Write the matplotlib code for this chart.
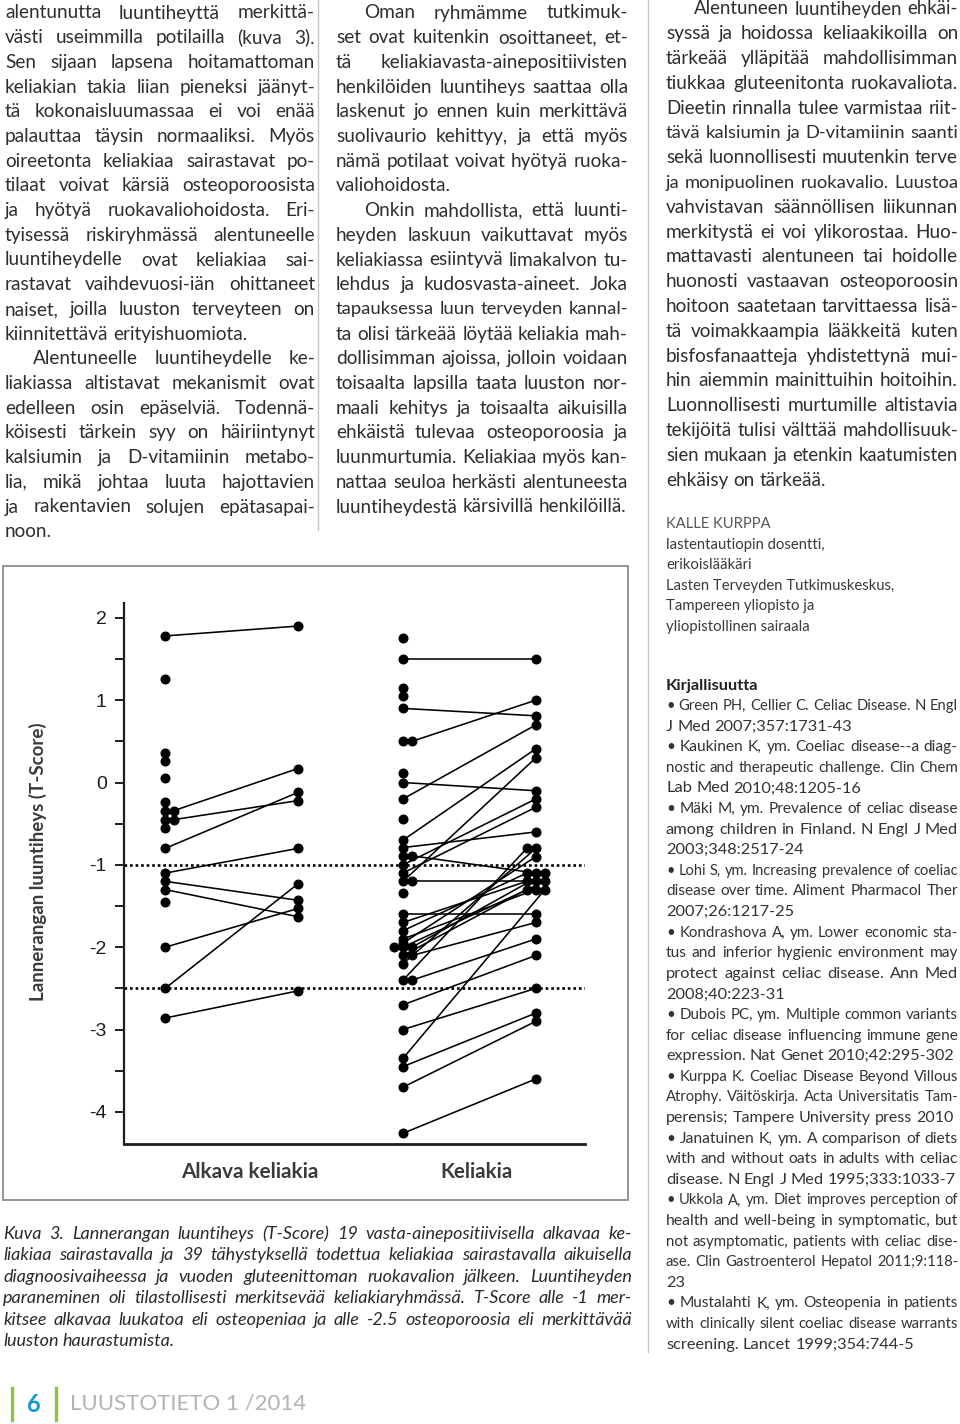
import matplotlib

matplotlib.use("Agg")

import matplotlib.pyplot as plt  # noqa: E402
from matplotlib.lines import Line2D  # noqa: E402
from matplotlib.patches import Rectangle  # noqa: E402
from matplotlib.ticker import MultipleLocator  # noqa: E402

plt.rcParams["axes.unicode_minus"] = False
plt.rcParams["font.family"] = ["Lato", "DejaVu Sans"]

W, H = 960, 1424

# --- Kuva 3: lumbar T-score at diagnosis and after one year of gluten-free diet ---
GROUP_LABELS = ["Alkava keliakia", "Keliakia"]
Y_LABEL = "Lannerangan luuntiheys (T-Score)"
Y_TICKS = [2, 1, 0, -1, -2, -3, -4]
THRESHOLDS = [-1, -2.5]

EARLY_PRE = [1.78, 1.26, 0.36, 0.26, 0.05, -0.24, -0.34, -0.34, -0.45, -0.45,
             -0.55, -0.80, -1.10, -1.20, -1.30, -1.45, -2.00, -2.50, -2.86]
EARLY_POST = [1.90, None, None, None, None, None, None, 0.17, None, -0.22,
              None, -0.12, -0.80, -1.43, -1.63, None, -1.53, -1.23, -2.53]

CELIAC_PRE = [1.75, 1.50, 1.15, 1.05, 0.90, 0.50, 0.50, 0.11, 0.00, -0.20,
              -0.44, -0.70, -0.79, -0.89, -0.89, -1.00, -1.10, -1.20, -1.20, -1.34,
              -1.60, -1.70, -1.80, -1.90, -1.95, -2.00, -2.00, -2.00, -2.10, -2.10,
              -2.20, -2.40, -2.40, -2.70, -3.00, -3.35, -3.45, -3.70, -4.26]
CELIAC_POST = [None, 1.50, None, None, 0.81, None, 1.00, None, -0.10, 0.70,
               None, 0.41, -0.60, None, -1.10, -0.20, -0.30, 0.30, -1.20, None,
               -1.60, -1.20, -1.10, -1.30, -0.90, -1.20, -1.10, None, -1.30, -1.70,
               -0.80, -0.80, -1.90, -2.10, -2.50, -1.30, -2.80, -2.90, -3.60]

# --- page text ---
LEFT_COLUMN = [
    (False, ["alentunutta luuntiheyttä merkittä-",
             "västi useimmilla potilailla (kuva 3).",
             "Sen sijaan lapsena hoitamattoman",
             "keliakian takia liian pieneksi jäänyt-",
             "tä kokonaisluumassaa ei voi enää",
             "palauttaa täysin normaaliksi. Myös",
             "oireetonta keliakiaa sairastavat po-",
             "tilaat voivat kärsiä osteoporoosista",
             "ja hyötyä ruokavaliohoidosta. Eri-",
             "tyisessä riskiryhmässä alentuneelle",
             "luuntiheydelle ovat keliakiaa sai-",
             "rastavat vaihdevuosi-iän ohittaneet",
             "naiset, joilla luuston terveyteen on",
             "kiinnitettävä erityishuomiota."]),
    (True, ["Alentuneelle luuntiheydelle ke-",
            "liakiassa altistavat mekanismit ovat",
            "edelleen osin epäselviä. Todennä-",
            "köisesti tärkein syy on häiriintynyt",
            "kalsiumin ja D-vitamiinin metabo-",
            "lia, mikä johtaa luuta hajottavien",
            "ja rakentavien solujen epätasapai-",
            "noon."]),
]

MIDDLE_COLUMN = [
    (True, ["Oman ryhmämme tutkimuk-",
            "set ovat kuitenkin osoittaneet, et-",
            "tä keliakiavasta-ainepositiivisten",
            "henkilöiden luuntiheys saattaa olla",
            "laskenut jo ennen kuin merkittävä",
            "suolivaurio kehittyy, ja että myös",
            "nämä potilaat voivat hyötyä ruoka-",
            "valiohoidosta."]),
    (True, ["Onkin mahdollista, että luunti-",
            "heyden laskuun vaikuttavat myös",
            "keliakiassa esiintyvä limakalvon tu-",
            "lehdus ja kudosvasta-aineet. Joka",
            "tapauksessa luun terveyden kannal-",
            "ta olisi tärkeää löytää keliakia mah-",
            "dollisimman ajoissa, jolloin voidaan",
            "toisaalta lapsilla taata luuston nor-",
            "maali kehitys ja toisaalta aikuisilla",
            "ehkäistä tulevaa osteoporoosia ja",
            "luunmurtumia. Keliakiaa myös kan-",
            "nattaa seuloa herkästi alentuneesta",
            "luuntiheydestä kärsivillä henkilöillä."]),
]

RIGHT_COLUMN = [
    (True, ["Alentuneen luuntiheyden ehkäi-",
            "syssä ja hoidossa keliaakikoilla on",
            "tärkeää ylläpitää mahdollisimman",
            "tiukkaa gluteenitonta ruokavaliota.",
            "Dieetin rinnalla tulee varmistaa riit-",
            "tävä kalsiumin ja D-vitamiinin saanti",
            "sekä luonnollisesti muutenkin terve",
            "ja monipuolinen ruokavalio. Luustoa",
            "vahvistavan säännöllisen liikunnan",
            "merkitystä ei voi ylikorostaa. Huo-",
            "mattavasti alentuneen tai hoidolle",
            "huonosti vastaavan osteoporoosin",
            "hoitoon saatetaan tarvittaessa lisä-",
            "tä voimakkaampia lääkkeitä kuten",
            "bisfosfanaatteja yhdistettynä mui-",
            "hin aiemmin mainittuihin hoitoihin.",
            "Luonnollisesti murtumille altistavia",
            "tekijöitä tulisi välttää mahdollisuuk-",
            "sien mukaan ja etenkin kaatumisten",
            "ehkäisy on tärkeää."]),
]

AUTHOR_NAME = "KALLE KURPPA"
AUTHOR_LINES = ["lastentautiopin dosentti,", "erikoislääkäri",
                "Lasten Terveyden Tutkimuskeskus,", "Tampereen yliopisto ja",
                "yliopistollinen sairaala"]

REF_TITLE = "Kirjallisuutta"
REFERENCES = [
    (False, ["• Green PH, Cellier C. Celiac Disease. N Engl", "J Med 2007;357:1731-43"]),
    (False, ["• Kaukinen K, ym. Coeliac disease--a diag-",
             "nostic and therapeutic challenge. Clin Chem", "Lab Med 2010;48:1205-16"]),
    (False, ["• Mäki M, ym. Prevalence of celiac disease",
             "among children in Finland. N Engl J Med", "2003;348:2517-24"]),
    (False, ["• Lohi S, ym. Increasing prevalence of coeliac",
             "disease over time. Aliment Pharmacol Ther", "2007;26:1217-25"]),
    (False, ["• Kondrashova A, ym. Lower economic sta-",
             "tus and inferior hygienic environment may",
             "protect against celiac disease. Ann Med", "2008;40:223-31"]),
    (False, ["• Dubois PC, ym. Multiple common variants",
             "for celiac disease influencing immune gene",
             "expression. Nat Genet 2010;42:295-302"]),
    (False, ["• Kurppa K. Coeliac Disease Beyond Villous",
             "Atrophy. Väitöskirja. Acta Universitatis Tam-",
             "perensis; Tampere University press 2010"]),
    (False, ["• Janatuinen K, ym. A comparison of diets",
             "with and without oats in adults with celiac",
             "disease. N Engl J Med 1995;333:1033-7"]),
    (False, ["• Ukkola A, ym. Diet improves perception of",
             "health and well-being in symptomatic, but",
             "not asymptomatic, patients with celiac dise-",
             "ase. Clin Gastroenterol Hepatol 2011;9:118-", "23"]),
    (False, ["• Mustalahti K, ym. Osteopenia in patients",
             "with clinically silent coeliac disease warrants",
             "screening. Lancet 1999;354:744-5"]),
]

CAPTION = [
    (False, ["Kuva 3. Lannerangan luuntiheys (T-Score) 19 vasta-ainepositiivisella alkavaa ke-",
             "liakiaa sairastavalla ja 39 tähystyksellä todettua keliakiaa sairastavalla aikuisella",
             "diagnoosivaiheessa ja vuoden gluteenittoman ruokavalion jälkeen. Luuntiheyden",
             "paraneminen oli tilastollisesti merkitsevää keliakiaryhmässä. T-Score alle -1 mer-",
             "kitsee alkavaa luukatoa eli osteopeniaa ja alle -2.5 osteoporoosia eli merkittävää",
             "luuston haurastumista."]),
]

FOOTER_PAGE = "6"
FOOTER_TITLE = "LUUSTOTIETO 1 /2014"

TEXT_COLOR = "#2e2e2e"
GREEN = "#8cc63f"
BLUE = "#1597d3"
BODY = "Lato"

fig = plt.figure(figsize=(W / 100, H / 100), dpi=100)
fig.patch.set_facecolor("white")
renderer = fig.canvas.get_renderer()


def fx(px):
    return px / W


def fy(py):
    return 1 - py / H


_widths = {}


def text_width(s, size, family=BODY, weight="normal", style="normal"):
    key = (s, size, family, weight, style)
    if key not in _widths:
        t = fig.text(0, 0, s, fontsize=size, family=family, weight=weight, style=style)
        _widths[key] = t.get_window_extent(renderer).width
        t.remove()
    return _widths[key]


def size_for_width(s, width, **font):
    return 10 * width / text_width(s, 10, **font)


def draw_line(line, x0, x1, y, size, justify, color, family=BODY, weight="normal",
              style="normal"):
    font = dict(family=family, weight=weight, style=style)
    words = line.split()
    space = text_width("a a", size, **font) - text_width("aa", size, **font)
    natural = sum(text_width(w, size, **font) for w in words) + space * (len(words) - 1)
    if natural > x1 - x0:
        size = size * (x1 - x0) / natural * 0.99
        space = text_width("a a", size, **font) - text_width("aa", size, **font)
    widths = [text_width(w, size, **font) for w in words]
    gap = space
    if justify and len(words) > 1:
        gap = (x1 - x0 - sum(widths)) / (len(words) - 1)
    x = x0
    for w, wd in zip(words, widths):
        fig.text(fx(x), fy(y), w, fontsize=size, color=color, ha="left", va="center", **font)
        x += wd + gap


def draw_block(paras, x0, x1, y0, dy, size, indent=28, color=TEXT_COLOR, **font):
    i = 0
    for indented, lines in paras:
        for j, line in enumerate(lines):
            left = x0 + (indent if indented and j == 0 else 0)
            draw_line(line, left, x1, y0 + i * dy, size, j < len(lines) - 1, color, **font)
            i += 1


# --- text columns ---
draw_block(LEFT_COLUMN, 5, 315, 13, 24.7, 13.7)
draw_block(MIDDLE_COLUMN, 336, 628, 13, 24.7, 13.7)
draw_block(RIGHT_COLUMN, 666, 958, 9, 24.8, 13.7)

fig.add_artist(Line2D([fx(318)] * 2, [fy(0), fy(530)], color="#c4c4c4", lw=1))
fig.add_artist(Line2D([fx(648)] * 2, [fy(0), fy(1352)], color="#c4c4c4", lw=1))

# author block
fig.text(fx(666), fy(524), AUTHOR_NAME, color="#555555", family=BODY, ha="left", va="center",
         fontsize=size_for_width(AUTHOR_NAME, 104))
author_size = size_for_width(AUTHOR_LINES[2], 229)
for k, line in enumerate(AUTHOR_LINES):
    fig.text(fx(666), fy(545 + k * 20.4), line, color="#3a3a3a", family=BODY,
             fontsize=author_size, ha="left", va="center")

# references
fig.text(fx(666), fy(686), REF_TITLE, color="#222222", family=BODY, weight="bold",
         fontsize=11.8, ha="left", va="center")
draw_block(REFERENCES, 666, 958, 706, 20.6, 11.8, color="#333333")

# caption
draw_block(CAPTION, 3, 632, 1234, 21.4, 13.0, style="italic", color="#2a2a2a")

# --- chart ---
fig.add_artist(Rectangle((fx(3), fy(1200)), fx(628) - fx(3), (1200 - 566) / H,
                         transform=fig.transFigure, fill=False, ec="#8c8c8c", lw=1.3))

ax = fig.add_axes([fx(124), fy(1144), fx(585) - fx(124), (1144 - 603) / H])
ax.set_facecolor("none")

GROUP_STEP = 1.79  # gap between the two groups in pair widths
JIT = 0.068


def jitter(values, pattern):
    seen, out = {}, []
    for v in values:
        if v is None:
            out.append(0.0)
            continue
        k = seen.get(v, 0)
        seen[v] = k + 1
        out.append(pattern[k % len(pattern)] * JIT)
    return out


for g, (pre, post) in enumerate([(EARLY_PRE, EARLY_POST), (CELIAC_PRE, CELIAC_POST)]):
    x_pre = g * GROUP_STEP
    x_post = x_pre + 1
    jp = jitter(pre, [0, 1, -1])
    jq = jitter(post, [0, -1, 1])
    for a, b, da, db in zip(pre, post, jp, jq):
        if b is not None:
            ax.plot([x_pre + da, x_post + db], [a, b], color="black", lw=1.15,
                    solid_capstyle="round", zorder=2)
    ax.plot([x_pre + d for d in jp], pre, "o", color="black", ms=6.2, zorder=3)
    qs = [(x_post + d, v) for v, d in zip(post, jq) if v is not None]
    ax.plot([q[0] for q in qs], [q[1] for q in qs], "o", color="black", ms=6.2, zorder=3)

for t in THRESHOLDS:
    ax.axhline(t, color="black", lw=1.9, linestyle=(0, (1, 1.1)), zorder=1)

ax.set_xlim(-0.31, GROUP_STEP + 1 + 0.37)
ax.set_ylim(-4.39, 2.18)
ax.set_yticks(Y_TICKS)
ax.set_yticklabels([str(v) for v in Y_TICKS], family="Liberation Sans", fontsize=14,
                   color="#1e1e1e")
ax.yaxis.set_minor_locator(MultipleLocator(0.5))
ax.tick_params(axis="y", which="both", direction="out", length=6.5, width=1.4,
               color="#1e1e1e", pad=6)
ax.set_xticks([])
for side in ["top", "right"]:
    ax.spines[side].set_visible(False)
ax.spines["left"].set_linewidth(1.6)
ax.spines["bottom"].set_linewidth(2.0)
ax.spines["left"].set_color("#1e1e1e")
ax.spines["bottom"].set_color("#1e1e1e")

fig.text(fx(38), fy(862), Y_LABEL, rotation=90, ha="center", va="center", family=BODY,
         weight="bold", color="#3a3a3a",
         fontsize=size_for_width(Y_LABEL, 280, weight="bold"))
for label, cx, wd in zip(GROUP_LABELS, [250, 477], [137, 72]):
    fig.text(fx(cx), fy(1172), label, ha="center", va="center", family=BODY, weight="bold",
             color="#3a3a3a", fontsize=size_for_width(label, wd, weight="bold"))

# --- footer ---
for bx in [12, 56]:
    fig.add_artist(Line2D([fx(bx)] * 2, [fy(1388), fy(1420)], color=GREEN, lw=2.4))
fig.text(fx(34), fy(1404), FOOTER_PAGE, ha="center", va="center", family=BODY, weight="bold",
         color=BLUE, fontsize=17)
fig.text(fx(70), fy(1404), FOOTER_TITLE, ha="left", va="center", family=BODY, color="#b3b3b3",
         fontsize=size_for_width(FOOTER_TITLE, 236))

fig.savefig("out.png", dpi=100)
plt.close(fig)
